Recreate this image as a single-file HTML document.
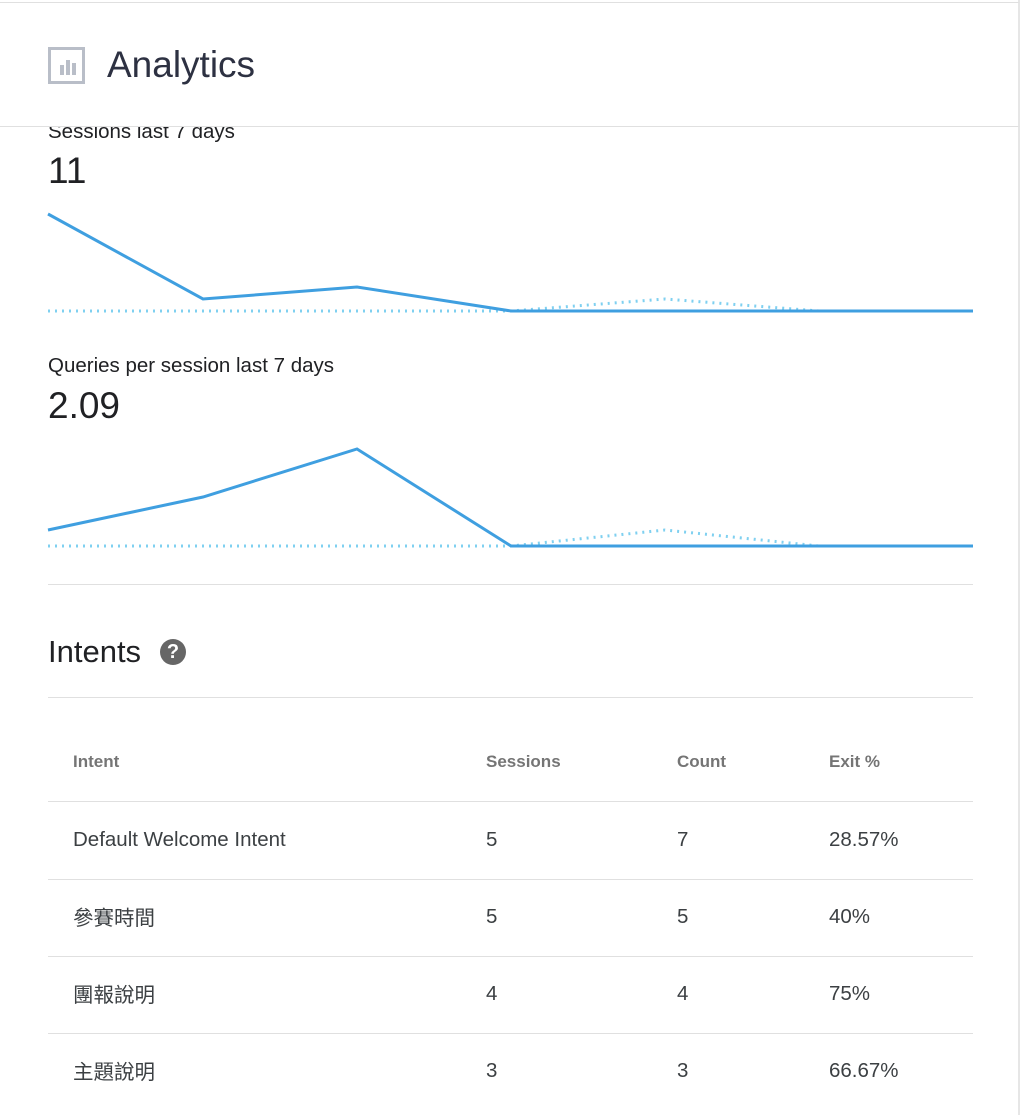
<!DOCTYPE html>
<html><head><meta charset="utf-8"><style>
body{margin:0;width:1024px;height:1115px;background:#fff;font-family:"Liberation Sans","Noto Sans CJK TC",sans-serif;position:relative;overflow:hidden;color:#202124}
.abs{position:absolute}
.hdr{left:0;top:2px;width:1018px;height:123px;border-top:1px solid #e0e0e0;border-bottom:1px solid #e0e0e0;border-right:2px solid #e6e6e6;background:#fff;z-index:2}
.vr{left:1018px;top:0;width:2px;height:1115px;background:#e6e6e6}
.row{left:48px;width:925px;border-top:1px solid #e0e0e0}
.t{font-size:20.5px;color:#3c4043;line-height:24px;height:24px}
.h{font-size:17px;font-weight:bold;color:#757575}
</style></head><body>
<div class="abs vr"></div>
<div class="abs" style="left:48px;top:120px;font-size:20.5px;color:#202124">Sessions last 7 days</div>
<div class="abs hdr">
 <div class="abs" style="left:48px;top:44px;width:37px;height:37px;border:3px solid #b9bec8;box-sizing:border-box">
  <div class="abs" style="left:9px;top:15px;width:4px;height:10px;background:#b9bec8"></div>
  <div class="abs" style="left:15px;top:10px;width:4px;height:15px;background:#b9bec8"></div>
  <div class="abs" style="left:21px;top:13px;width:4px;height:12px;background:#b9bec8"></div>
 </div>
 <div class="abs" style="left:107px;top:41px;font-size:37px;color:#2d3142">Analytics</div>
</div>
<div class="abs" style="left:48px;top:150px;font-size:37px">11</div>
<div class="abs" style="left:48px;top:354px;font-size:20.5px">Queries per session last 7 days</div>
<div class="abs" style="left:48px;top:385px;font-size:37px">2.09</div>
<svg class="abs" style="left:0;top:0" width="1024" height="600">
 <polyline points="48,311 203,311 357,311 511,311 665,299 819,311 973,311" fill="none" stroke="#7fd0f0" stroke-width="3" stroke-dasharray="2,5"/>
 <polyline points="48,214 203,299 357,287 511,311 665,311 819,311 973,311" fill="none" stroke="#3f9fe0" stroke-width="3"/>
 <polyline points="48,546 203,546 357,546 511,546 665,530 819,546 973,546" fill="none" stroke="#7fd0f0" stroke-width="3" stroke-dasharray="2,5"/>
 <polyline points="48,530 203,497 357,449 511,546 665,546 819,546 973,546" fill="none" stroke="#3f9fe0" stroke-width="3"/>
</svg>
<div class="abs row" style="top:584px"></div>
<div class="abs" style="left:48px;top:634px;font-size:31px">Intents</div>
<div class="abs" style="left:160px;top:639px;width:26px;height:26px;border-radius:50%;background:#666;color:#fff;font-size:20px;font-weight:bold;text-align:center;line-height:26px">?</div>
<div class="abs row" style="top:697px"></div>
<div class="abs h" style="left:73px;top:752px">Intent</div>
<div class="abs h" style="left:486px;top:752px">Sessions</div>
<div class="abs h" style="left:677px;top:752px">Count</div>
<div class="abs h" style="left:829px;top:752px">Exit %</div>
<div class="abs row" style="top:801px"></div>
<div class="abs t" style="left:73px;top:828px">Default Welcome Intent</div><div class="abs t" style="left:486px;top:828px">5</div><div class="abs t" style="left:677px;top:828px">7</div><div class="abs t" style="left:829px;top:828px">28.57%</div>
<div class="abs row" style="top:879px"></div>
<div class="abs t" style="left:73px;top:907px">參賽時間</div><div class="abs t" style="left:486px;top:905px">5</div><div class="abs t" style="left:677px;top:905px">5</div><div class="abs t" style="left:829px;top:905px">40%</div>
<div class="abs row" style="top:956px"></div>
<div class="abs t" style="left:73px;top:984px">團報說明</div><div class="abs t" style="left:486px;top:982px">4</div><div class="abs t" style="left:677px;top:982px">4</div><div class="abs t" style="left:829px;top:982px">75%</div>
<div class="abs row" style="top:1033px"></div>
<div class="abs t" style="left:73px;top:1061px">主題說明</div><div class="abs t" style="left:486px;top:1059px">3</div><div class="abs t" style="left:677px;top:1059px">3</div><div class="abs t" style="left:829px;top:1059px">66.67%</div>
</body></html>
